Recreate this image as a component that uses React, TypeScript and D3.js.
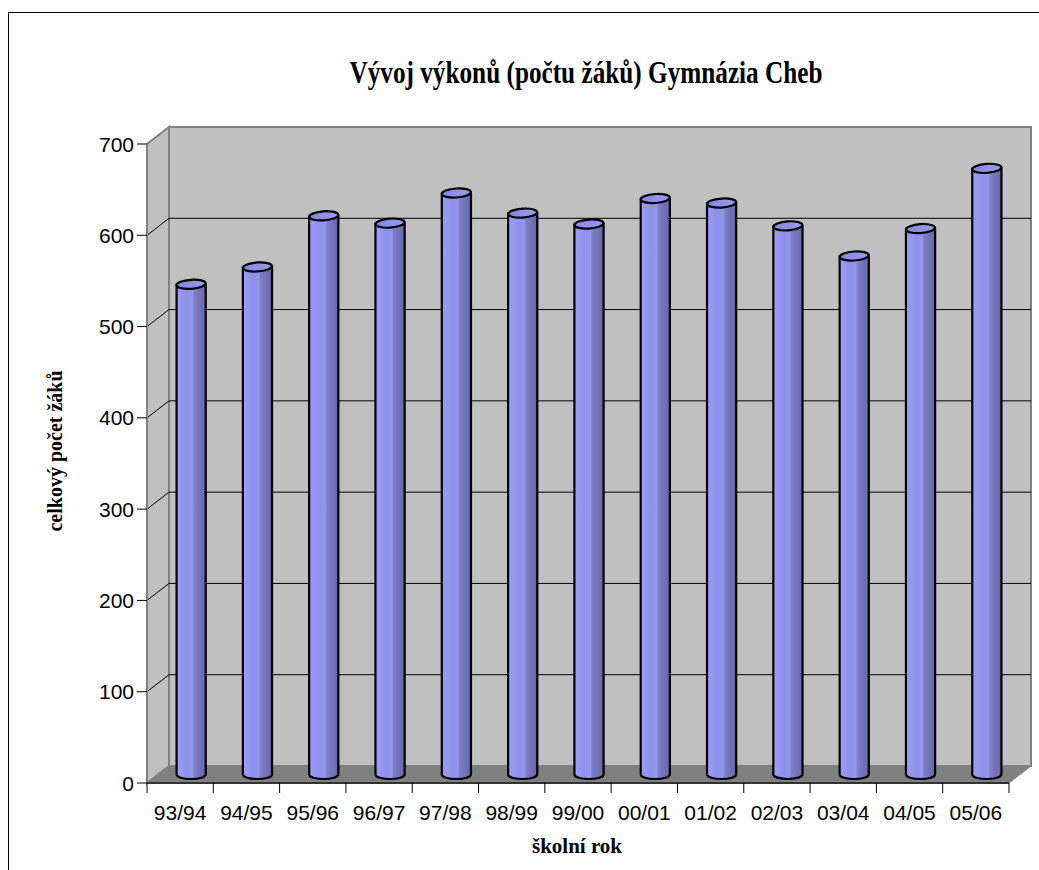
import * as d3 from 'd3'

const categories = ['93/94', '94/95', '95/96', '96/97', '97/98', '98/99', '99/00', '00/01', '01/02', '02/03', '03/04', '04/05', '05/06']
const students = [537, 556, 612, 604, 637, 615, 603, 631, 626, 601, 568, 598, 664]
const yTicks = [0, 100, 200, 300, 400, 500, 600, 700]

const title = 'Vývoj výkonů (počtu žáků) Gymnázia Cheb'
const yTitle = 'celkový počet žáků'
const xTitle = 'školní rok'

const W = 1039
const H = 870
// front plane of the 3d box
const left = 147
const right = 1009
const bottom = 783
const top = 144
// depth offset of the back wall
const DX = 22
const DY = -17

export default function App() {
  const x = d3.scaleBand<string>().domain(categories).range([left, right]).padding(0)
  const y = d3.scaleLinear().domain([0, 700]).range([bottom, top])
  const bw = x.bandwidth()
  const rx = (bw * 0.44) / 2
  const ry = 4.5

  const back = (v: number) => y(v) + DY
  const sans = 'Liberation Sans, Arial, sans-serif'
  const serif = 'Liberation Serif, Times New Roman, serif'

  return (
    <svg width={W} height={H} style={{ position: 'absolute', left: 0, top: 0, background: '#fff' }}>
      <defs>
        <linearGradient id="cyl" x1="0" x2="1" y1="0" y2="0">
          <stop offset="0%" stopColor="#9c9efa" />
          <stop offset="35%" stopColor="#8e90ec" />
          <stop offset="55%" stopColor="#9496e6" />
          <stop offset="62%" stopColor="#7c7ec8" />
          <stop offset="100%" stopColor="#6666a8" />
        </linearGradient>
        <linearGradient id="cap" x1="0" x2="1" y1="0" y2="0">
          <stop offset="0%" stopColor="#8486e0" />
          <stop offset="100%" stopColor="#9a9cf0" />
        </linearGradient>
      </defs>

      <rect x={8.5} y={12.5} width={1200} height={1000} fill="none" stroke="#000" strokeWidth={1} />

      <text x={586} y={83} textAnchor="middle" fontFamily={serif} fontWeight="bold" fontSize={32}
        textLength={473} lengthAdjust="spacingAndGlyphs">{title}</text>

      {/* side wall */}
      <polygon
        points={`${left},${y(700)} ${left + DX},${back(700)} ${left + DX},${back(0)} ${left},${y(0)}`}
        fill="#c0c0c0" stroke="#808080" strokeWidth={2} />
      {/* back wall */}
      <rect x={left + DX} y={back(700)} width={right - left} height={back(0) - back(700)}
        fill="#c0c0c0" stroke="#808080" strokeWidth={2} />

      {yTicks.filter(t => t > 0 && t < 700).map(t => (
        <g key={t}>
          <line x1={left + DX} x2={right + DX} y1={back(t)} y2={back(t)} stroke="#000" strokeWidth={1} />
          <line x1={left} x2={left + DX} y1={y(t)} y2={back(t)} stroke="#000" strokeWidth={1} />
        </g>
      ))}

      {/* floor */}
      <polygon
        points={`${left},${y(0)} ${left + DX},${back(0)} ${right + DX},${back(0)} ${right},${y(0)}`}
        fill="#808080" stroke="#808080" strokeWidth={1} />

      {students.map((v, i) => {
        const c = categories[i]
        const cx = (x(c) || 0) + bw / 2 + DX / 2
        const yb = y(0) + DY / 2
        const yt = y(v) + DY / 2
        return (
          <g key={c}>
            <path
              d={`M${cx - rx},${yt} L${cx - rx},${yb} A${rx},${ry} 0 0 0 ${cx + rx},${yb} L${cx + rx},${yt} Z`}
              fill="url(#cyl)" stroke="#000" strokeWidth={2.2} strokeLinejoin="round" />
            <ellipse cx={cx} cy={yt} rx={rx} ry={ry} transform={`rotate(-4 ${cx} ${yt})`}
              fill="url(#cap)" stroke="#000" strokeWidth={2.2} />
          </g>
        )
      })}

      {/* axes */}
      <line x1={left} x2={left} y1={y(700)} y2={y(0)} stroke="#808080" strokeWidth={2} />
      <line x1={left} x2={right} y1={y(0)} y2={y(0)} stroke="#333" strokeWidth={2} />
      {yTicks.map(t => (
        <g key={t}>
          <line x1={left - 10} x2={left} y1={y(t)} y2={y(t)} stroke="#000" strokeWidth={1} />
          <text x={left - 13} y={y(t)} dy="0.36em" textAnchor="end" fontFamily={sans} fontSize={21}>{t}</text>
        </g>
      ))}
      {[...categories.map(c => x(c) || 0), right].map((px, i) => (
        <line key={i} x1={px} x2={px} y1={y(0)} y2={y(0) + 10} stroke="#000" strokeWidth={1} />
      ))}
      {categories.map(c => (
        <text key={c} x={(x(c) || 0) + bw / 2} y={820} textAnchor="middle" fontFamily={sans} fontSize={21}>{c}</text>
      ))}

      <text x={577} y={853} textAnchor="middle" fontFamily={serif} fontWeight="bold" fontSize={21}>{xTitle}</text>
      <text transform="translate(62,451) rotate(-90)" textAnchor="middle" fontFamily={serif} fontWeight="bold"
        fontSize={20}>{yTitle}</text>
    </svg>
  )
}
